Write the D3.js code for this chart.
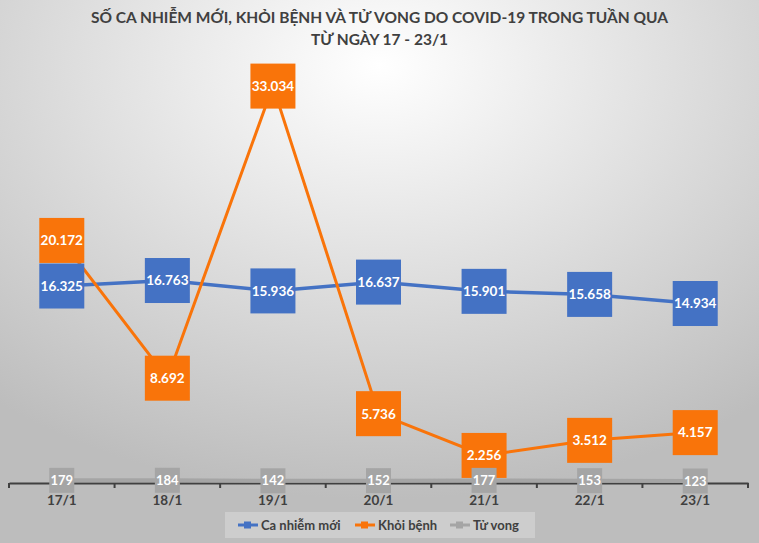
<!DOCTYPE html>
<html><head><meta charset="utf-8">
<script src="https://cdn.jsdelivr.net/npm/d3@7"></script>
<style>body{margin:0;} svg{display:block;}</style>
</head><body>
<script>
const categories = ["17/1","18/1","19/1","20/1","21/1","22/1","23/1"];
const newCases = [16325,16763,15936,16637,15901,15658,14934];
const recovered = [20172,8692,33034,5736,2256,3512,4157];
const deaths = [179,184,142,152,177,153,123];
const seriesNames = ["Ca nhiễm mới","Khỏi bệnh","Tử vong"];
const titleLines = ["SỐ CA NHIỄM MỚI, KHỎI BỆNH VÀ TỬ VONG DO COVID-19 TRONG TUẦN QUA","TỪ NGÀY 17 - 23/1"];

const W=759,H=543;
const font="Lato, 'Open Sans', sans-serif";
const svg=d3.select("body").append("svg").attr("width",W).attr("height",H);
const defs=svg.append("defs");
const rg=defs.append("radialGradient").attr("id","bg").attr("cx","50%").attr("cy","12%").attr("r","80%");
rg.append("stop").attr("offset","0%").attr("stop-color","#ffffff");
rg.append("stop").attr("offset","100%").attr("stop-color","#bdbdbd");
svg.append("rect").attr("width",W).attr("height",H).attr("fill","url(#bg)");

const x=d3.scaleBand().domain(categories).range([9,748]);
const yL=d3.scaleLinear().domain([0,35000]).range([482.5,62.5]);
const yR=d3.scaleLinear().domain([700,34100]).range([482.5,62.5]);

// title
svg.append("g").selectAll("text").data(titleLines).join("text")
  .attr("x",W/2).attr("y",(d,i)=>23+i*22).attr("text-anchor","middle")
  .attr("font-family",font).attr("font-weight","bold").attr("font-size",15.5)
  .attr("fill","#404040").text(d=>d);

// axis
const ax=svg.append("g").attr("transform","translate(0,483)")
  .call(d3.axisBottom(x).tickSize(0).tickPadding(12));
ax.select(".domain").attr("stroke","#404040").attr("stroke-width",2);
ax.selectAll("text").attr("font-family",font).attr("font-weight","bold").attr("font-size",13.5).attr("fill","#404040");
const bounds=categories.map(c=>x(c)).concat([x.range()[1]]);
ax.selectAll(".bt").data(bounds).join("line").attr("class","bt")
  .attr("x1",d=>d).attr("x2",d=>d).attr("y1",0).attr("y2",5).attr("stroke","#404040").attr("stroke-width",2);

const cx=c=>x(c)+x.bandwidth()/2;
const series=[
  {name:seriesNames[0],vals:newCases,y:yR,color:"#4472C4",size:45,fs:13.5,lw:3.5},
  {name:seriesNames[1],vals:recovered,y:yL,color:"#F9740A",size:45,fs:13.5,lw:3},
  {name:seriesNames[2],vals:deaths,y:yL,color:"#A5A5A5",size:25,fs:13,lw:4}
];
const fmt=v=>v>=1000?d3.format(",")(v).replace(/,/g,"."):String(v);

series.forEach(s=>{
  const line=d3.line().x((d,i)=>cx(categories[i])).y(d=>s.y(d));
  svg.append("path").datum(s.vals).attr("d",line).attr("fill","none")
    .attr("stroke",s.color).attr("stroke-width",s.lw);
});
series.forEach(s=>{
  const g=svg.append("g");
  g.selectAll("rect").data(s.vals).join("rect")
    .attr("x",(d,i)=>cx(categories[i])-s.size/2).attr("y",d=>s.y(d)-s.size/2)
    .attr("width",s.size).attr("height",s.size).attr("fill",s.color);
  g.selectAll("text").data(s.vals).join("text")
    .attr("x",(d,i)=>cx(categories[i])).attr("y",d=>s.y(d)).attr("dy","0.36em")
    .attr("text-anchor","middle").attr("font-family",font).attr("font-weight","bold")
    .attr("font-size",s.fs).attr("fill","#ffffff").text(d=>fmt(d));
});

// legend
const lg=svg.append("g");
lg.append("rect").attr("x",225).attr("y",512).attr("width",310).attr("height",26).attr("fill","#ffffff").attr("opacity",0.25);
const lx=[238,355,450];
series.forEach((s,i)=>{
  const g=lg.append("g").attr("transform",`translate(${lx[i]},525)`);
  g.append("line").attr("x1",0).attr("x2",20).attr("stroke",s.color).attr("stroke-width",3);
  g.append("rect").attr("x",6).attr("y",-3.5).attr("width",7).attr("height",7).attr("fill",s.color);
  g.append("text").attr("x",23).attr("dy","0.36em").attr("font-family",font).attr("font-weight","bold")
    .attr("font-size",13).attr("fill","#404040").text(s.name);
});
</script>
</body></html>
